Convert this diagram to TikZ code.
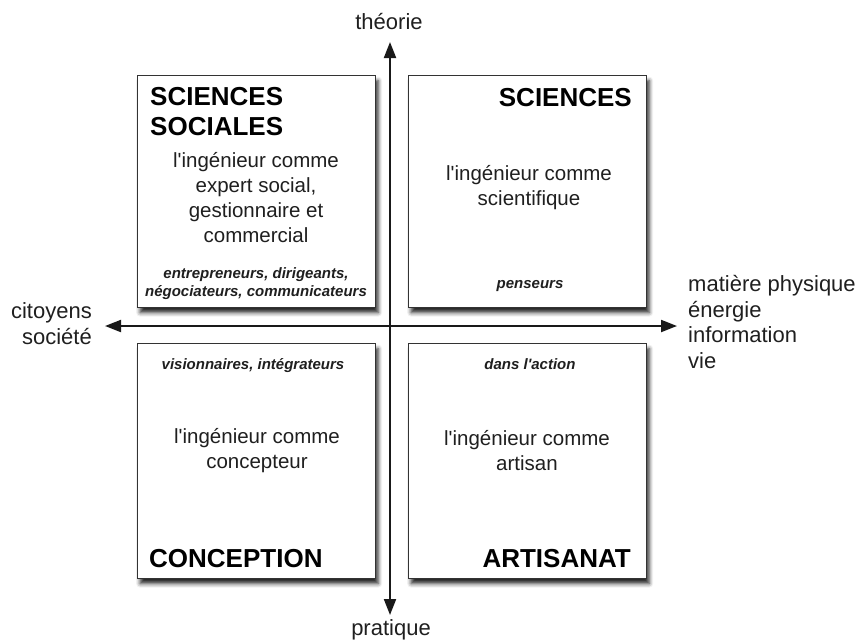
\documentclass[tikz,border=0pt]{standalone}
\usepackage{fontspec}
\setmainfont{Liberation Sans}[Ligatures=TeXOff]
\usetikzlibrary{arrows.meta,shadows.blur}
\tikzset{
  quadbox/.style={draw=black!80, line width=1.3pt, fill=white, anchor=north west,
    inner sep=0pt, minimum width=238pt, minimum height=232pt,
    blur shadow={shadow xshift=2.5pt, shadow yshift=-5pt, shadow blur radius=4pt, shadow opacity=85}},
  ttl/.style={font=\fontsize{26}{30}\bfseries\selectfont, text=black, inner sep=0pt},
  body/.style={font=\fontsize{20.5}{24.7}\selectfont, text=black!88, align=center, inner sep=0pt, anchor=base},
  role/.style={font=\fontsize{15}{17.5}\bfseries\itshape\selectfont, text=black!88, align=center, inner sep=0pt, anchor=base},
  axlab/.style={font=\fontsize{22}{25.5}\selectfont, text=black!88, inner sep=0pt},
  axis/.style={line width=2pt, draw=black!90, -{Triangle[length=16pt,width=12pt]}}
}
\begin{document}
\begin{tikzpicture}[x=1pt,y=-1pt]
\useasboundingbox (0,0) rectangle (861,643);
% boxes
\node[quadbox] (TL) at (137,75) {};
\node[quadbox] (TR) at (408,75) {};
\node[quadbox, minimum height=235pt] (BL) at (137,343) {};
\node[quadbox, minimum height=235pt] (BR) at (408,343) {};
% axes
\coordinate (top) at (390,42);
\coordinate (bot) at (390,615);
\coordinate (lft) at (105,326);
\coordinate (rgt) at (677,326);
\coordinate (ctr) at (390,326);
\draw[axis] (ctr) -- (top);
\draw[axis] (ctr) -- (bot);
\draw[axis] (ctr) -- (lft);
\draw[axis] (ctr) -- (rgt);
% axis labels (base anchor = last line baseline)
\node[axlab, anchor=base] (theo) at (389,29) {théorie};
\node[axlab, anchor=base] (prat) at (391,635) {pratique};
\node[axlab, anchor=base east, align=right] (cit) at (92,344) {citoyens\\société};
\node[axlab, anchor=base west, align=left] (mat) at (688,368) {matière physique\\énergie\\information\\vie};
% top-left
\node[ttl, anchor=base west, align=left] (tlT) at (150,135) {SCIENCES\\SOCIALES};
\node[body] (tlB) at (256,242) {l'ingénieur comme\\expert social,\\gestionnaire et\\commercial};
\node[role] (tlR) at (256,296) {entrepreneurs, dirigeants,\\négociateurs, communicateurs};
% top-right
\node[ttl, anchor=base east] (trT) at (632,106) {SCIENCES};
\node[body] (trB) at (529,205) {l'ingénieur comme\\scientifique};
\node[role] (trR) at (530,288) {penseurs};
% bottom-left
\node[role] (blR) at (253,369) {visionnaires, intégrateurs};
\node[body] (blB) at (257,468) {l'ingénieur comme\\concepteur};
\node[ttl, anchor=base west] (blT) at (149,567) {CONCEPTION};
% bottom-right
\node[role] (brR) at (530,369) {dans l'action};
\node[body] (brB) at (527,470) {l'ingénieur comme\\artisan};
\node[ttl, anchor=base east] (brT) at (631,567) {ARTISANAT};
\end{tikzpicture}
\end{document}
